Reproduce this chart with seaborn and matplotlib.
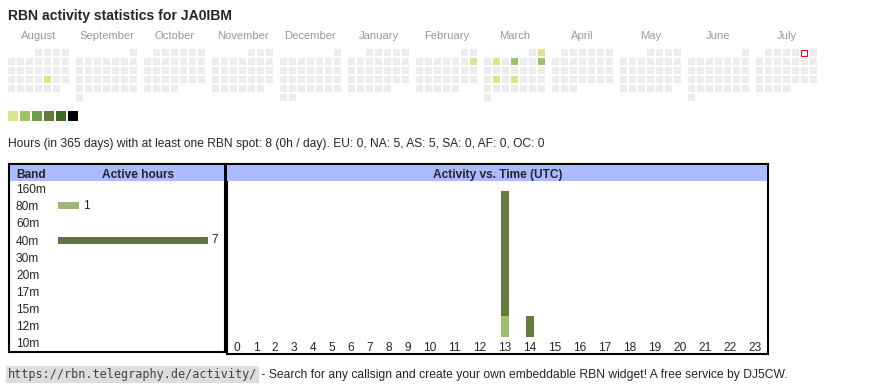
import calendar
from datetime import date
import numpy as np
import matplotlib
matplotlib.use('Agg')
import matplotlib.pyplot as plt
from matplotlib.colors import ListedColormap
from matplotlib.patches import Rectangle
import seaborn as sns

sns.set_style('white')
plt.rcParams['font.family'] = ['Liberation Sans', 'DejaVu Sans']

# ------------------------------------------------------------------
# Data
# ------------------------------------------------------------------
callsign = 'JA0IBM'
months = [(2024, 8), (2024, 9), (2024, 10), (2024, 11), (2024, 12), (2025, 1),
          (2025, 2), (2025, 3), (2025, 4), (2025, 5), (2025, 6), (2025, 7)]
month_names = ['August', 'September', 'October', 'November', 'December', 'January',
               'February', 'March', 'April', 'May', 'June', 'July']
active_days = ['2024-08-23', '2025-02-09', '2025-03-02', '2025-03-04',
               '2025-03-06', '2025-03-09', '2025-03-18', '2025-03-20']
active_levels = [1, 1, 1, 1, 2, 2, 1, 1]
today = '2025-07-05'
empty_color = '#ececec'
level_colors = ['#dbe38b', '#9dc16a', '#6b9f46', '#647b3b', '#3d6b29', '#000000']

bands = ['160m', '80m', '60m', '40m', '30m', '20m', '17m', '15m', '12m', '10m']
band_hours = [0, 1, 0, 7, 0, 0, 0, 0, 0, 0]
band_colors = {'80m': '#9dc16a', '40m': '#647b3b'}

hour_labels = [str(h) for h in range(24)]
hours_80m = [0, 0, 0, 0, 0, 0, 0, 0, 0, 0, 0, 0, 0, 1, 0, 0, 0, 0, 0, 0, 0, 0, 0, 0]
hours_40m = [0, 0, 0, 0, 0, 0, 0, 0, 0, 0, 0, 0, 0, 6, 1, 0, 0, 0, 0, 0, 0, 0, 0, 0]

summary = ('Hours (in 365 days) with at least one RBN spot: 8 (0h / day). '
           'EU: 0, NA: 5, AS: 5, SA: 0, AF: 0, OC: 0')
url = 'https://rbn.telegraphy.de/activity/'
footer = ' - Search for any callsign and create your own embeddable RBN widget! A free service by DJ5CW.'

# ------------------------------------------------------------------
# Layout helpers (pixel coordinates, origin top-left)
# ------------------------------------------------------------------
W, H = 870, 390
fig = plt.figure(figsize=(W / 100, H / 100), dpi=100)


def px_axes(x0, y0, x1, y1):
    return fig.add_axes([x0 / W, 1 - y1 / H, (x1 - x0) / W, (y1 - y0) / H])


def px_text(x, y, s, **kw):
    return fig.text(x / W, 1 - y / H, s, **kw)


px_text(8, 20, f'RBN activity statistics for {callsign}', fontsize=10.1,
        fontweight='bold', va='baseline')

# ------------------------------------------------------------------
# Calendar
# ------------------------------------------------------------------
levels = {date.fromisoformat(d): lv for d, lv in zip(active_days, active_levels)}
today_d = date.fromisoformat(today)
cmap = ListedColormap([empty_color] + level_colors)

for i, ((yr, mo), name) in enumerate(zip(months, month_names)):
    first_wd, ndays = calendar.monthrange(yr, mo)
    grid = np.full((6, 7), np.nan)
    for d in range(1, ndays + 1):
        r, c = divmod(first_wd + d - 1, 7)
        grid[r, c] = levels.get(date(yr, mo, d), 0)
    ax = px_axes(7 + 68 * i, 48, 70 + 68 * i, 102)
    sns.heatmap(grid, ax=ax, cmap=cmap, vmin=0, vmax=6, cbar=False,
                linewidths=1.44, linecolor='white',
                xticklabels=False, yticklabels=False)
    ax.set_title(name, fontsize=8.1, color='#999999', pad=6.5)
    if (yr, mo) == (today_d.year, today_d.month):
        r, c = divmod(first_wd + today_d.day - 1, 7)
        ax.add_patch(Rectangle((c + 1.5 / 9, r + 1.5 / 9), 6 / 9, 6 / 9,
                               facecolor='white', edgecolor='red', lw=0.75))

# colour legend
ax = px_axes(7, 110, 79, 122)
sns.heatmap(np.arange(1, 7)[None, :], ax=ax, cmap=ListedColormap(level_colors),
            vmin=0.5, vmax=6.5, cbar=False, linewidths=1.44, linecolor='white',
            xticklabels=False, yticklabels=False)

px_text(8, 146.5, summary, fontsize=8.65, va='baseline')

# ------------------------------------------------------------------
# Band table
# ------------------------------------------------------------------
ax = px_axes(9.3, 164.1, 224.8, 351.5)
palette = {b: band_colors.get(b, '#999999') for b in bands}
sns.barplot(x=band_hours, y=bands, hue=bands, palette=palette, orient='h',
            width=0.41, legend=False, ax=ax, linewidth=0)
for cont, v in zip(ax.containers, band_hours):
    if v:
        ax.bar_label(cont, labels=[str(v)], padding=2.5, fontsize=8.6)
ax.set_xlim(-(58 - 9.3) / 21.4, (224.8 - 58) / 21.4)
ax.set_ylim(9.53, -1.45)
ax.set_xticks([])
ax.set_xlabel('')
ax.set_ylabel('')
ax.tick_params(axis='y', length=0, pad=-4.8, labelsize=8.6)
for t in ax.get_yticklabels():
    t.set_ha('left')
for s in ax.spines.values():
    s.set_visible(True)
    s.set_color('black')
    s.set_linewidth(1.5)

hax = px_axes(10.3, 165.2, 223.8, 180.8)
hax.set_facecolor('#aabbff')
hax.set_xticks([])
hax.set_yticks([])
for s in hax.spines.values():
    s.set_visible(False)
px_text(16, 177.8, 'Band', fontsize=8.6, fontweight='bold', va='baseline')
px_text(138, 177.8, 'Active hours', fontsize=8.6, fontweight='bold',
        va='baseline', ha='center')

# ------------------------------------------------------------------
# Activity vs. time
# ------------------------------------------------------------------
ax = px_axes(226.5, 164.1, 768.3, 354.3)
cell_w = np.array([12.9 + 6.1 * len(s) for s in hour_labels])
edges = np.concatenate([[0], np.cumsum(cell_w)])
centers = edges[:-1] + cell_w / 2
bottom = np.zeros(len(hour_labels))
for band, vals in [('80m', hours_80m), ('40m', hours_40m)]:
    ax.bar(centers, vals, width=7.7, bottom=bottom, color=band_colors[band], linewidth=0)
    bottom += np.array(vals)
ax.set_xlim(-1, edges[-1] + 0.5)
ax.set_ylim(-(354.3 - 336.7) / 20.8, (336.7 - 164.1) / 20.8)
ax.set_xticks(centers, hour_labels)
ax.set_yticks([])
ax.tick_params(axis='x', length=0, pad=-9.1, labelsize=8.6)
for s in ax.spines.values():
    s.set_visible(True)
    s.set_color('black')
    s.set_linewidth(1.5)

hax = px_axes(227.5, 165.2, 767.3, 180.8)
hax.set_facecolor('#aabbff')
hax.set_xticks([])
hax.set_yticks([])
for s in hax.spines.values():
    s.set_visible(False)
px_text(497.5, 177.8, 'Activity vs. Time (UTC)', fontsize=8.6, fontweight='bold',
        va='baseline', ha='center')

# ------------------------------------------------------------------
# Footer
# ------------------------------------------------------------------
t = px_text(8, 378, url, fontsize=8.5, family='DejaVu Sans Mono', color='#444444',
            va='baseline', bbox=dict(facecolor='#dddddd', edgecolor='none', pad=1.2))
fig.canvas.draw()
bb = t.get_window_extent()
fig.text(bb.x1 / W + 1 / W, 1 - 378 / H, footer, fontsize=8.7, va='baseline')

plt.savefig('out.png', dpi=100)
